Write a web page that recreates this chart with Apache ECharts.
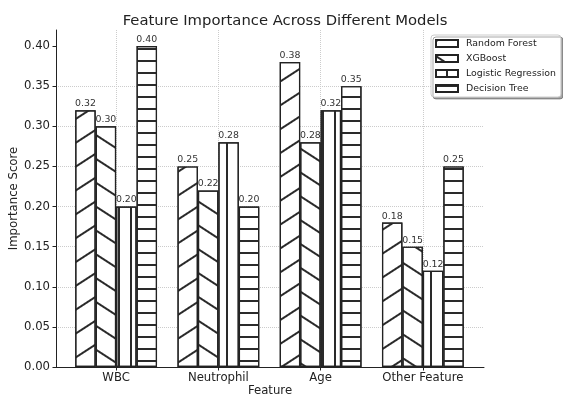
<!DOCTYPE html>
<html>
<head>
<meta charset="utf-8">
<script src="https://cdn.jsdelivr.net/npm/echarts@6/dist/echarts.min.js"></script>
<style>
  html, body { margin: 0; padding: 0; background: #fff; }
  #chart { width: 563px; height: 394px; }
</style>
</head>
<body>
<div id="chart"></div>
<script>
// data
const features = ['WBC', 'Neutrophil', 'Age', 'Other Feature'];
const randomForest = [0.32, 0.25, 0.38, 0.18];
const xgboost = [0.30, 0.22, 0.28, 0.15];
const logisticRegression = [0.20, 0.28, 0.32, 0.12];
const decisionTree = [0.40, 0.20, 0.35, 0.25];
const yTicks = [0, 0.05, 0.10, 0.15, 0.20, 0.25, 0.30, 0.35, 0.40];

const font = 'DejaVu Sans';
const ink = '#222';
const slope = 33 * Math.PI / 180;

// stripe pattern, like the matplotlib hatches
function hatch(angle, gap) {
  return {
    symbol: 'rect', symbolSize: 1,
    dashArrayX: [1, 0], dashArrayY: [1.1, gap],
    rotation: angle, color: '#2a2a2a'
  };
}

function barSeries(name, data, decal) {
  return {
    name: name,
    type: 'bar',
    data: data,
    xAxisIndex: 1,
    yAxisIndex: 1,
    barWidth: '20%',
    barGap: '0%',
    itemStyle: { color: '#fff', borderColor: ink, borderWidth: 1.2, decal: decal },
    label: {
      show: true, position: 'top', distance: 2,
      fontFamily: font, fontSize: 9.4, color: '#333',
      formatter: p => p.value.toFixed(2)
    }
  };
}

const chart = echarts.init(document.getElementById('chart'));

chart.setOption({
  animation: false,
  backgroundColor: '#fff',
  title: {
    text: 'Feature Importance Across Different Models',
    left: 280, top: 9, textAlign: 'center',
    textStyle: { fontFamily: font, fontSize: 14.8, fontWeight: 'normal', color: ink }
  },
  legend: {
    orient: 'vertical',
    left: 431, top: 35,
    padding: [4, 5, 4, 4],
    itemWidth: 22, itemHeight: 7, itemGap: 6,
    icon: 'rect',
    borderColor: '#ccc', borderWidth: 1, borderRadius: 3,
    backgroundColor: '#fff',
    shadowColor: 'rgba(0,0,0,0.35)', shadowOffsetX: 2, shadowOffsetY: 2, shadowBlur: 0,
    textStyle: { fontFamily: font, fontSize: 9.4, color: ink, padding: [0, 0, 0, 3] },
    data: ['Random Forest', 'XGBoost', 'Logistic Regression', 'Decision Tree']
  },
  grid: [
    { left: 56, right: 79, top: 30, bottom: 27, containLabel: false, outerBoundsMode: 'none' },
    { left: 65, right: 89, top: 30, bottom: 27, containLabel: false, outerBoundsMode: 'none' }
  ],
  xAxis: [{
    gridIndex: 0, type: 'value', min: 0, max: 1,
    name: 'Feature', nameLocation: 'middle', nameGap: 18, nameMoveOverlap: false,
    nameTextStyle: { fontFamily: font, fontSize: 11.7, color: ink },
    axisLine: { show: true, lineStyle: { color: ink, width: 1 } },
    axisTick: { show: false }, axisLabel: { show: false }, splitLine: { show: false }
  }, {
    gridIndex: 1, type: 'category', data: features,
    axisLine: { show: false },
    axisTick: { show: true, alignWithLabel: true, length: 3.5, lineStyle: { color: ink } },
    axisLabel: { interval: 0, fontFamily: font, fontSize: 11.7, color: ink, margin: 5 },
    splitLine: { show: false }
  }],
  yAxis: [{
    gridIndex: 0, type: 'value', min: 0, max: 0.42,
    name: 'Importance Score', nameLocation: 'middle', nameGap: 36, nameMoveOverlap: false,
    nameTextStyle: { fontFamily: font, fontSize: 11.7, color: ink },
    axisLine: { show: true, lineStyle: { color: ink, width: 1 } },
    axisTick: { show: true, length: 3.5, customValues: yTicks, lineStyle: { color: ink } },
    axisLabel: {
      customValues: yTicks, margin: 6,
      fontFamily: font, fontSize: 11.7, color: ink,
      formatter: v => v.toFixed(2)
    },
    splitLine: { show: true, showMaxLine: false, lineStyle: { color: '#ccc', type: 'dotted', width: 1 } }
  }, {
    gridIndex: 1, type: 'value', min: 0, max: 0.42, show: false
  }],
  series: [
    {
      // vertical grid lines at the feature ticks
      type: 'line', data: [], xAxisIndex: 1, yAxisIndex: 1, z: 1,
      markLine: {
        silent: true, symbol: 'none', z: 1,
        label: { show: false },
        lineStyle: { color: '#ccc', type: 'dotted', width: 1 },
        data: features.map(f => ({ xAxis: f }))
      }
    },
    barSeries('Random Forest', randomForest, hatch(-slope, 18)),
    barSeries('XGBoost', xgboost, hatch(slope, 18)),
    barSeries('Logistic Regression', logisticRegression, hatch(Math.PI / 2, 10)),
    barSeries('Decision Tree', decisionTree, hatch(0, 10))
  ]
});
</script>
</body>
</html>
